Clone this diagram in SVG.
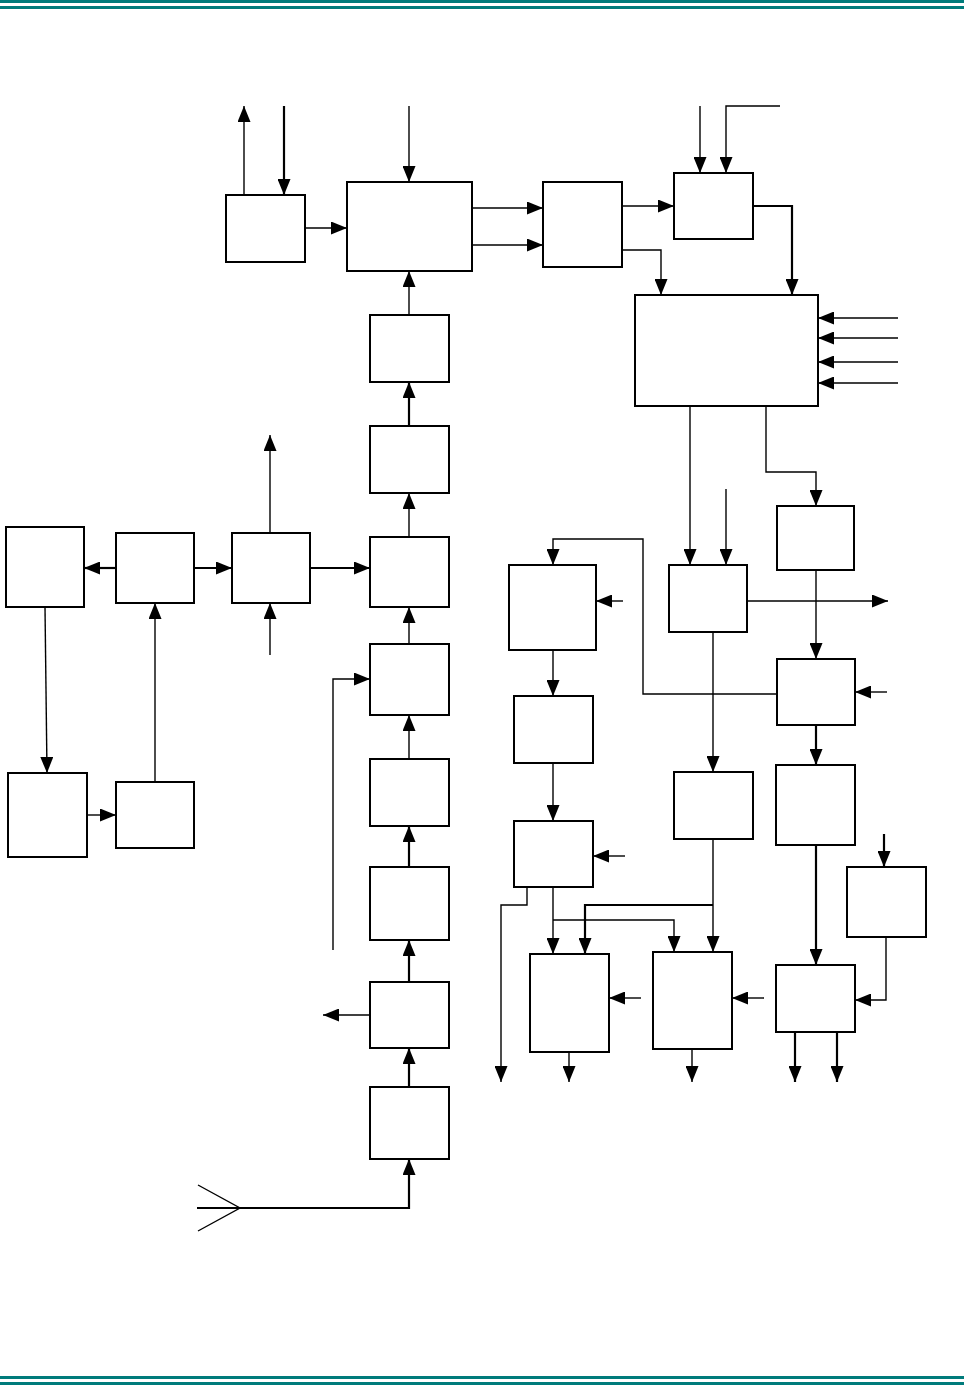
<svg xmlns="http://www.w3.org/2000/svg" width="964" height="1385" viewBox="0 0 964 1385">
<defs>
<marker id="ah" viewBox="0 0 16 13" refX="16" refY="6.5" markerWidth="16" markerHeight="13" orient="auto" markerUnits="userSpaceOnUse"><path d="M0,0 L16,6.5 L0,13 z" fill="#000"/></marker>
</defs>
<style>
.b{fill:#fff;stroke:#000;stroke-width:2}
.c{fill:none;stroke:#000;stroke-width:1.4}
.t{stroke-width:2.2}
.a{marker-end:url(#ah)}
.band{fill:#007b7b}
</style>
<rect width="964" height="1385" fill="#fff"/>
<g id="frame">
<rect class="band" x="0" y="0" width="964" height="3"/>
<rect class="band" x="0" y="6" width="964" height="3"/>
<rect class="band" x="0" y="1376" width="964" height="3"/>
<rect class="band" x="0" y="1382" width="964" height="3"/>
</g>
<g id="nodes">
<g id="n-s"><rect class="b" x="226" y="195" width="79" height="67"/></g>
<g id="n-m"><rect class="b" x="347" y="182" width="125" height="89"/></g>
<g id="n-c"><rect class="b" x="543" y="182" width="79" height="85"/></g>
<g id="n-d"><rect class="b" x="674" y="173" width="79" height="66"/></g>
<g id="n-e"><rect class="b" x="635" y="295" width="183" height="111"/></g>
<g id="n-b1"><rect class="b" x="370" y="315" width="79" height="67"/></g>
<g id="n-b2"><rect class="b" x="370" y="426" width="79" height="67"/></g>
<g id="n-b3"><rect class="b" x="370" y="537" width="79" height="70"/></g>
<g id="n-b4"><rect class="b" x="370" y="644" width="79" height="71"/></g>
<g id="n-b5"><rect class="b" x="370" y="759" width="79" height="67"/></g>
<g id="n-b6"><rect class="b" x="370" y="867" width="79" height="73"/></g>
<g id="n-b7"><rect class="b" x="370" y="982" width="79" height="66"/></g>
<g id="n-b8"><rect class="b" x="370" y="1087" width="79" height="72"/></g>
<g id="n-u"><rect class="b" x="6" y="527" width="78" height="80"/></g>
<g id="n-v"><rect class="b" x="116" y="533" width="78" height="70"/></g>
<g id="n-w"><rect class="b" x="232" y="533" width="78" height="70"/></g>
<g id="n-y"><rect class="b" x="8" y="773" width="79" height="84"/></g>
<g id="n-x"><rect class="b" x="116" y="782" width="78" height="66"/></g>
<g id="n-f"><rect class="b" x="669" y="565" width="78" height="67"/></g>
<g id="n-g"><rect class="b" x="777" y="506" width="77" height="64"/></g>
<g id="n-h"><rect class="b" x="777" y="659" width="78" height="66"/></g>
<g id="n-i"><rect class="b" x="509" y="565" width="87" height="85"/></g>
<g id="n-j"><rect class="b" x="514" y="696" width="79" height="67"/></g>
<g id="n-k"><rect class="b" x="674" y="772" width="79" height="67"/></g>
<g id="n-l"><rect class="b" x="776" y="765" width="79" height="80"/></g>
<g id="n-p"><rect class="b" x="514" y="821" width="79" height="66"/></g>
<g id="n-q"><rect class="b" x="847" y="867" width="79" height="70"/></g>
<g id="n-r"><rect class="b" x="776" y="965" width="79" height="67"/></g>
<g id="n-s2"><rect class="b" x="530" y="954" width="79" height="98"/></g>
<g id="n-t"><rect class="b" x="653" y="952" width="79" height="97"/></g>
</g>
<g id="connectors">
<path class="c" d="M198,1185 L240,1208 L198,1231"/>
<path class="c t a" d="M197,1208 H409 V1159"/>
<path class="c t a" d="M409,1087 V1048"/>
<path class="c t a" d="M409,982 V940"/>
<path class="c a" d="M370,1015 H323"/>
<path class="c t a" d="M409,867 V826"/>
<path class="c a" d="M409,759 V715"/>
<path class="c a" d="M333,950 V679 H370"/>
<path class="c a" d="M409,644 V607"/>
<path class="c a" d="M409,537 V493"/>
<path class="c t a" d="M409,426 V382"/>
<path class="c a" d="M409,315 V271"/>
<path class="c a" d="M409,106 V182"/>
<path class="c a" d="M305,228 H347"/>
<path class="c a" d="M244,195 V106"/>
<path class="c t a" d="M284,106 V195"/>
<path class="c a" d="M472,208 H543"/>
<path class="c a" d="M472,245 H543"/>
<path class="c a" d="M622,206 H674"/>
<path class="c a" d="M700,106 V173"/>
<path class="c a" d="M780,106 H726 V173"/>
<path class="c a" d="M622,250 H661 V295"/>
<path class="c t a" d="M753,206 H792 V295"/>
<path class="c a" d="M898,318 H818"/>
<path class="c a" d="M898,338 H818"/>
<path class="c a" d="M898,362 H818"/>
<path class="c a" d="M898,383 H818"/>
<path class="c t a" d="M116,568 H84"/>
<path class="c t a" d="M194,568 H232"/>
<path class="c t a" d="M310,568 H370"/>
<path class="c a" d="M270,533 V435"/>
<path class="c a" d="M270,655 V603"/>
<path class="c a" d="M155,782 V603"/>
<path class="c a" d="M45,607 L47,773"/>
<path class="c a" d="M87,815 H116"/>
<path class="c a" d="M690,406 V565"/>
<path class="c a" d="M726,489 V565"/>
<path class="c a" d="M766,406 V472 H816 V506"/>
<path class="c a" d="M747,601 H888"/>
<path class="c a" d="M816,570 V659"/>
<path class="c a" d="M887,692 H855"/>
<path class="c a" d="M777,694 H643 V539 H553 V565"/>
<path class="c a" d="M623,601 H596"/>
<path class="c a" d="M553,650 V696"/>
<path class="c a" d="M713,632 V772"/>
<path class="c t a" d="M816,725 V765"/>
<path class="c a" d="M553,763 V821"/>
<path class="c a" d="M625,856 H593"/>
<path class="c t a" d="M884,834 V867"/>
<path class="c t a" d="M816,845 V965"/>
<path class="c a" d="M886,937 V1000 H855"/>
<path class="c t a" d="M795,1032 V1082"/>
<path class="c t a" d="M837,1032 V1082"/>
<path class="c a" d="M527,887 V905 H501 V1082"/>
<path class="c a" d="M553,887 V954"/>
<path class="c a" d="M553,920 H674 V952"/>
<path class="c a" d="M713,839 V952"/>
<path class="c t a" d="M713,905 H585 V954"/>
<path class="c a" d="M641,998 H609"/>
<path class="c a" d="M764,998 H732"/>
<path class="c a" d="M569,1052 V1082"/>
<path class="c a" d="M692,1049 V1082"/>
</g>
</svg>
